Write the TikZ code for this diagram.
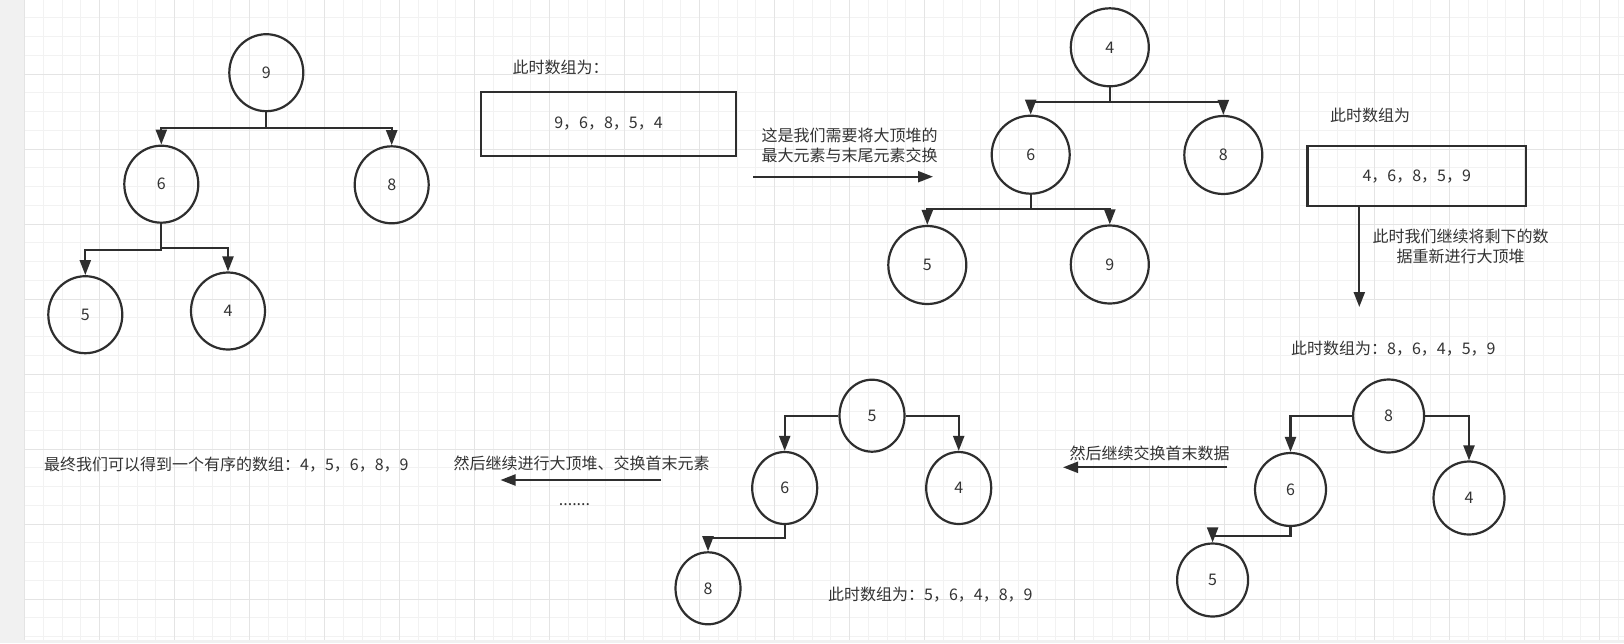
\documentclass[tikz,border=0pt]{standalone}
\usepackage{fontspec}
\setmainfont{Noto Sans CJK SC}
\usetikzlibrary{arrows.meta,shapes.geometric}
\definecolor{ink}{HTML}{2E2E2E}
\definecolor{tink}{HTML}{333333}
\definecolor{gminor}{HTML}{F2F2F2}
\definecolor{gmajor}{HTML}{E4E4E4}
\definecolor{stripc}{HTML}{F1F1F1}
\tikzset{
  txt/.style={font=\fontsize{16}{20}\selectfont, text=tink, inner sep=0pt},
  ring/.style={ellipse, draw=ink, line width=2.2pt, inner sep=0pt, font=\fontsize{16}{20}\selectfont, text=tink},
  ringA/.style={ring, minimum width=74pt, minimum height=77pt},
  ringB/.style={ring, minimum width=78pt, minimum height=78pt},
  ringC/.style={ring, minimum width=71pt, minimum height=73pt},
  ringD/.style={ring, minimum width=65pt, minimum height=72pt},
  arrbox/.style={draw=ink, line width=2.2pt, inner sep=0pt, font=\fontsize{16}{20}\selectfont, text=tink},
  conn/.style={draw=ink, line width=2.2pt, -{Triangle[length=15pt,width=11pt]}},
}
\begin{document}
\begin{tikzpicture}[x=1pt,y=-1pt]
\useasboundingbox (0,0) rectangle (1624,643);
% background grid
\fill[white] (0,0) rectangle (1624,643);
\foreach \k in {1,...,85}{
  \draw[gminor, line width=1pt] ({24.5+18.75*\k},0) -- ({24.5+18.75*\k},640);
}
\foreach \k in {1,...,34}{
  \draw[gminor, line width=1pt] (24.5,{-1+18.75*\k}) -- (1624,{-1+18.75*\k});
}
\foreach \k in {0,...,21}{
  \draw[gmajor, line width=1pt] ({24.5+75*\k},0) -- ({24.5+75*\k},640);
}
\foreach \k in {1,...,8}{
  \draw[gmajor, line width=1pt] (24.5,{-1+75*\k}) -- (1624,{-1+75*\k});
}
\fill[stripc] (0,0) rectangle (24,643);
\fill[stripc] (0,640) rectangle (1624,643);

% ---------- tree 1 ----------
\node[ringA] (a9) at (266.3,72.7) {9};
\node[ringA] (a6) at (161.3,184.2) {6};
\node[ringA] (a8) at (391.7,184.8) {8};
\node[ringA] (a5) at (85.3,314.7) {5};
\node[ringA] (a4) at (228,311) {4};
\coordinate (ja9) at (266.3,128.3);
\coordinate (ja6l) at (161.3,250);
\coordinate (ja6r) at (161.3,247.7);
\draw[conn] (a9.south) -- (ja9) -| (a6.north);
\draw[conn] (a9.south) -- (ja9) -| (a8.north);
\draw[conn] (a6.south) -- (ja6l) -| (a5.north);
\draw[conn] (a6.south) -- (ja6r) -| (a4.north);

% ---------- first array ----------
\node[txt, anchor=west] (l1) at (512.5,67) {此时数组为：};
\node[arrbox, minimum width=255pt, minimum height=64pt] (b1) at (608.5,123.7) {9，6，8，5，4};
\node[txt, align=center] (l2) at (849.7,145) {这是我们需要将大顶堆的\\最大元素与末尾元素交换};
\coordinate (p1s) at (753,176.7);
\coordinate (p1e) at (933,176.7);
\draw[conn] (p1s) -- (p1e);

% ---------- tree 2 ----------
\node[ringB] (b4) at (1109.8,47.3) {4};
\node[ringB] (b6) at (1030.7,154.7) {6};
\node[ringB] (b8) at (1223.3,155) {8};
\node[ringB] (b5) at (927.3,265) {5};
\node[ringB] (b9) at (1109.8,264.5) {9};
\coordinate (jb4) at (1109.8,101.7);
\coordinate (jb6) at (1030.7,209.3);
\draw[conn] (b4.south) -- (jb4) -| (b6.north);
\draw[conn] (b4.south) -- (jb4) -| (b8.north);
\draw[conn] (b6.south) -- (jb6) -| (b5.north);
\draw[conn] (b6.south) -- (jb6) -| (b9.north);

% ---------- second array ----------
\node[txt, anchor=west] (l3) at (1330,115.7) {此时数组为};
\node[arrbox, minimum width=218.5pt, minimum height=60.3pt] (b2) at (1416.75,176.15) {4，6，8，5，9};
\coordinate (p2e) at (1359.3,307);
\draw[conn] (b2.south -| p2e) -- (p2e);
\node[txt, align=center] (l4) at (1460.7,246) {此时我们继续将剩下的数\\据重新进行大顶堆};
\node[txt, anchor=west] (l5) at (1291,348.3) {此时数组为：8，6，4，5，9};

% ---------- tree 3 ----------
\node[ringC] (c8) at (1388.6,416) {8};
\node[ringC] (c6) at (1290.5,489.5) {6};
\node[ringC] (c4) at (1469,498) {4};
\node[ringC] (c5) at (1212.6,580) {5};
\coordinate (jc6) at (1290.5,535.7);
\draw[conn] (c8.west) -| (c6.north);
\draw[conn] (c8.east) -| (c4.north);
\draw[conn] (c6.south) -- (jc6) -| (c5.north);

\node[txt, anchor=west] (l6) at (1069.5,453.3) {然后继续交换首末数据};
\coordinate (p3s) at (1227,467.3);
\coordinate (p3e) at (1063,467.3);
\draw[conn] (p3s) -- (p3e);

% ---------- tree 4 ----------
\node[ringD] (d5) at (872,415.7) {5};
\node[ringD] (d6) at (784.7,488) {6};
\node[ringD] (d4) at (958.7,488) {4};
\node[ringD] (d8) at (708,588.3) {8};
\coordinate (jd6) at (784.7,537.7);
\draw[conn] (d5.west) -| (d6.north);
\draw[conn] (d5.east) -| (d4.north);
\draw[conn] (d6.south) -- (jd6) -| (d8.north);
\node[txt, anchor=west] (l7) at (828,594.3) {此时数组为：5，6，4，8，9};

% ---------- final ----------
\node[txt, anchor=west] (l8) at (453.5,463.3) {然后继续进行大顶堆、交换首末元素};
\coordinate (p4s) at (661,480);
\coordinate (p4e) at (500.5,480);
\draw[conn] (p4s) -- (p4e);
\node[txt, anchor=base] (l9) at (574.5,505.5) {.......};
\node[txt, anchor=west] (l10) at (44,465) {最终我们可以得到一个有序的数组：4，5，6，8，9};
\end{tikzpicture}
\end{document}
